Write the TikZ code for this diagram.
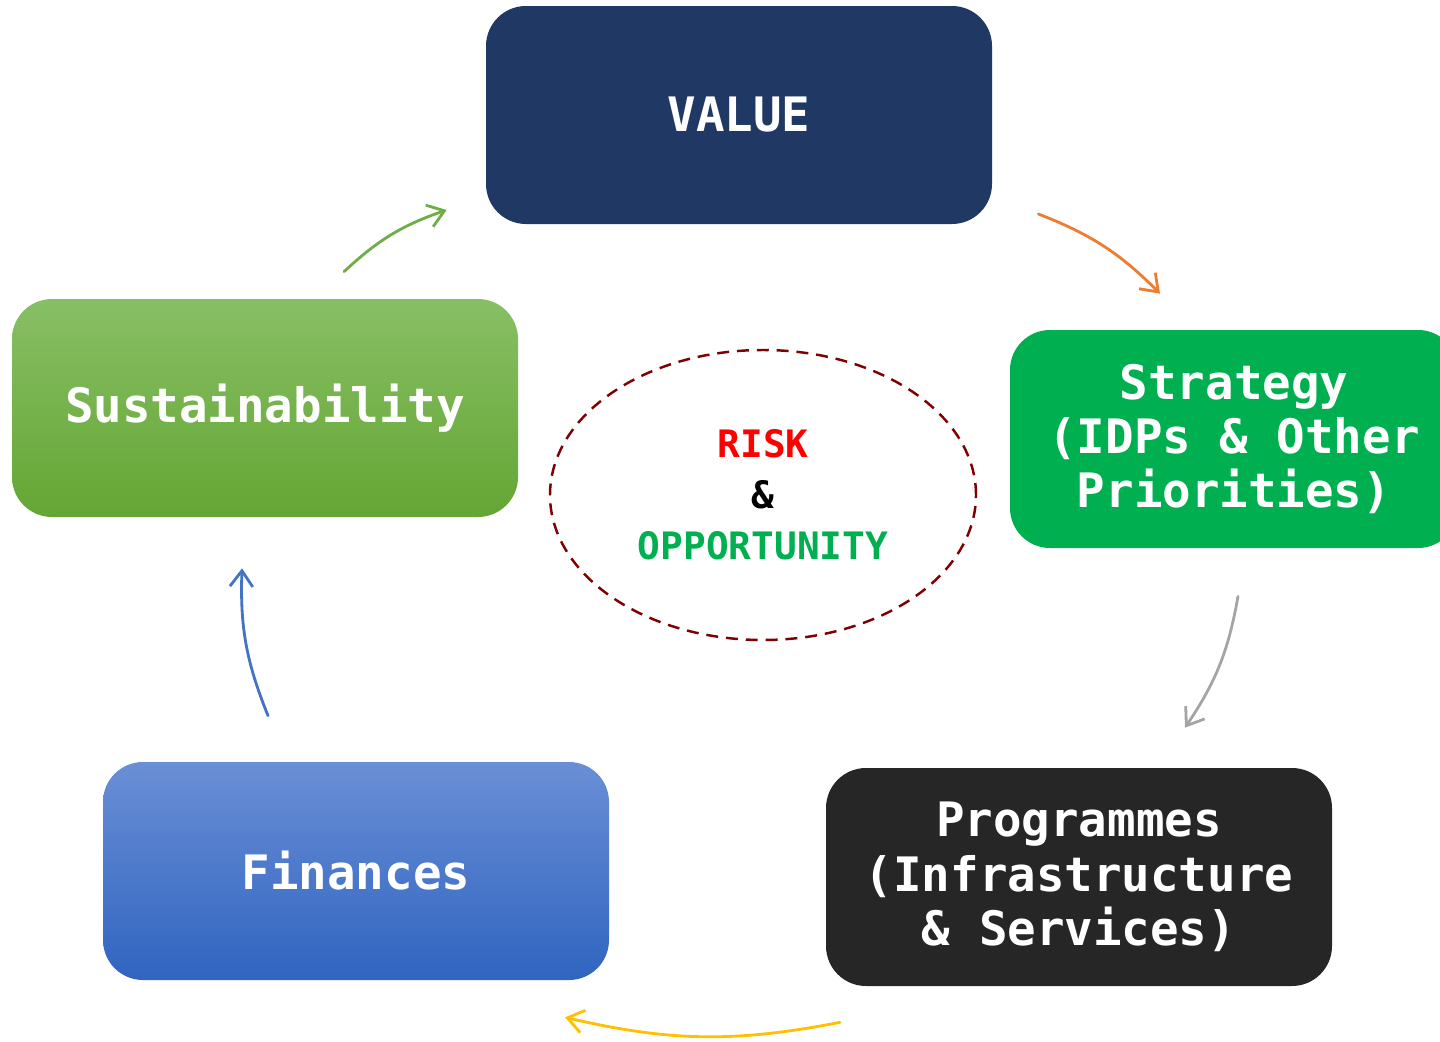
\documentclass[tikz,border=0pt]{standalone}
\usepackage{fontspec}
\setmonofont{DejaVu Sans Mono}
\usetikzlibrary{positioning,arrows.meta,shapes.geometric,calc}

\definecolor{navy}{HTML}{203864}
\definecolor{stratgreen}{HTML}{00B050}
\definecolor{progblack}{HTML}{262626}
\definecolor{darkred}{HTML}{7F0000}
\definecolor{arrgreen}{HTML}{70AD47}
\definecolor{arrorange}{HTML}{ED7D31}
\definecolor{arrgray}{HTML}{A5A5A5}
\definecolor{arryellow}{HTML}{FFC000}
\definecolor{arrblue}{HTML}{4472C4}
\definecolor{fintop}{HTML}{6A8FD6}
\definecolor{finbot}{HTML}{3064C0}
\definecolor{susttop}{HTML}{88BF65}
\definecolor{sustbot}{HTML}{64A634}

\begin{document}
\begin{tikzpicture}[
	font=\ttfamily\bfseries,
	x=1cm, y=1cm,
	box/.style={
		rounded corners=0.8cm,
		minimum height=4.36cm,
		minimum width=10.12cm,
		align=center,
		text=white,
		inner sep=0pt,
		font=\ttfamily\bfseries\fontsize{27}{31}\selectfont,
	},
	arr/.style={-{Straight Barb[length=9pt,width=13pt]}, line width=1.6pt, line cap=round, bend left=12},
]
\useasboundingbox (0,0) rectangle (28.8,-20.84);

% --- Boxes ---
\node[box, fill=navy] (value) at (14.78,-2.30) {VALUE};
\node[box, fill=stratgreen, minimum width=8.96cm] (strat) at (24.68,-8.78)
	{Strategy\\(IDPs \& Other\\Priorities)};
\node[box, fill=progblack] (prog) at (21.58,-17.54)
	{Programmes\\(Infrastructure\\\& Services)};
\node[box, top color=fintop, bottom color=finbot] (fin) at (7.12,-17.42) {Finances};
\node[box, top color=susttop, bottom color=sustbot] (sust) at (5.30,-8.16) {Sustainability};

% --- Centre ---
\node[ellipse, draw=darkred, line width=1.4pt, dash pattern=on 6.8pt off 4.5pt,
	minimum width=8.52cm, minimum height=5.8cm, inner sep=0pt, align=center,
	font=\ttfamily\bfseries\fontsize{21.5}{29}\selectfont] (risk) at (15.26,-9.90)
	{\textcolor{red}{RISK}\\\&\\\textcolor{stratgreen}{OPPORTUNITY}};

% --- Cycle arrows ---
\draw[arr, arrgreen]  ($(sust.north)+(1.58,0.54)$)  to ($(value.west)+(-0.78,-1.90)$);
\draw[arr, arrorange] ($(value.east)+(0.92,-1.98)$) to ($(strat.north)+(-1.48,0.72)$);
\draw[arr, arrgray]   ($(strat.south)+(0.08,-0.96)$) to ($(prog.north)+(2.12,0.80)$);
\draw[arr, arryellow] ($(prog.south)+(-4.78,-0.72)$) to ($(fin.south)+(4.18,-0.74)$);
\draw[arr, arrblue]   ($(fin.north)+(-1.76,0.92)$)  to ($(sust.south)+(-0.46,-1.02)$);

\end{tikzpicture}
\end{document}
